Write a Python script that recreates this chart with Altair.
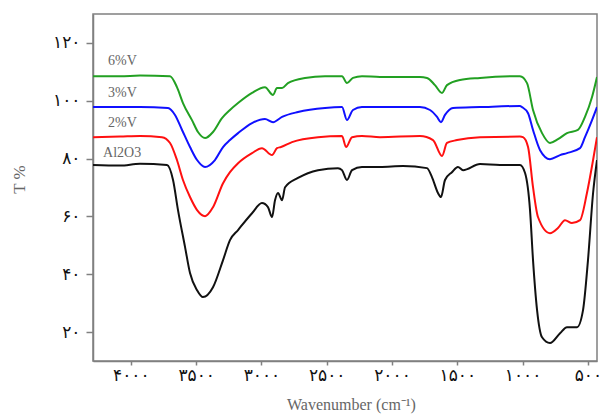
import altair as alt
import pandas as pd

# ---- data (wavenumber cm-1, transmittance %) ----
wn_al2o3 = [4290, 4083, 3930, 3723, 3677, 3639, 3585, 3547, 3493, 3448, 3371, 3294, 3241, 3179,
            3072, 2996, 2950, 2919, 2896, 2873, 2842, 2819, 2720, 2567, 2414, 2383, 2345, 2306,
            2230, 2092, 1916, 1732, 1694, 1648, 1625, 1594, 1541, 1495, 1456, 1326, 1173, 1020,
            981, 943, 920, 889, 851, 790, 713, 660, 583, 537, 499, 460, 430]
t_al2o3 = [77.8, 77.6, 78.2, 77.8, 72.6, 62.2, 49.4, 40.4, 34.5, 32.1, 35.5, 44.9, 51.8, 55.3,
           61.1, 64.6, 63.2, 59.8, 65.6, 68.1, 65.6, 70.1, 73.3, 76.0, 76.7, 76.0, 72.6, 76.0,
           77.1, 77.1, 77.4, 76.7, 73.6, 68.1, 66.7, 72.6, 75.3, 77.1, 76.0, 78.1, 77.8, 77.8,
           75.0, 62.2, 44.9, 27.6, 18.2, 16.2, 19.6, 21.7, 21.7, 27.6, 44.9, 68.1, 79.5]

wn_2v = [4290, 4083, 3930, 3762, 3700, 3647, 3601, 3547, 3493, 3432, 3371, 3294, 3241, 3179,
         3072, 2996, 2919, 2881, 2850, 2766, 2567, 2383, 2352, 2306, 2230, 2092, 1786, 1686,
         1617, 1579, 1502, 1326, 1020, 997, 958, 920, 882, 790, 729, 675, 622, 560, 507, 460, 430]
t_2v = [87.4, 87.6, 87.8, 87.4, 85.4, 79.5, 72.6, 66.7, 62.2, 60.1, 63.2, 71.5, 75.3, 78.4,
        81.9, 83.6, 81.2, 83.6, 84.0, 85.7, 87.4, 87.8, 84.0, 87.4, 87.8, 87.4, 87.8, 86.4,
        80.9, 85.4, 86.4, 87.4, 87.6, 87.4, 84.0, 70.1, 59.8, 54.2, 56.0, 58.7, 57.7, 58.7,
        68.1, 79.5, 87.4]

wn_3v = [4290, 4083, 3930, 3716, 3662, 3608, 3547, 3493, 3432, 3356, 3294, 3241, 3179, 3072,
         2973, 2911, 2842, 2720, 2513, 2383, 2345, 2299, 2230, 1786, 1709, 1655, 1625, 1594,
         1533, 1326, 1020, 1004, 958, 920, 866, 790, 713, 660, 560, 522, 468, 430]
t_3v = [97.8, 97.8, 97.8, 97.5, 95.1, 89.9, 84.0, 79.5, 77.1, 79.5, 84.0, 86.4, 88.8, 92.3,
        93.7, 92.6, 94.4, 96.1, 97.5, 97.8, 93.3, 96.8, 97.8, 97.8, 96.8, 94.4, 92.6, 95.1,
        97.5, 97.8, 98.2, 97.8, 95.7, 89.9, 82.9, 79.8, 81.2, 81.9, 83.6, 87.4, 93.3, 97.8]

wn_6v = [4290, 4083, 3930, 3700, 3647, 3601, 3532, 3486, 3432, 3371, 3302, 3241, 3179, 3072,
         2973, 2911, 2881, 2842, 2797, 2666, 2513, 2383, 2345, 2299, 2230, 2092, 1786, 1732,
         1671, 1617, 1579, 1479, 1326, 1020, 966, 920, 851, 790, 729, 660, 576, 522, 468, 430]
t_6v = [108.5, 108.5, 108.7, 108.5, 104.7, 99.2, 93.3, 89.2, 87.1, 89.2, 94.0, 96.8, 99.2, 102.7,
        104.7, 102.0, 104.4, 104.4, 106.1, 107.9, 108.5, 108.5, 106.1, 107.9, 108.5, 108.2, 108.2,
        107.9, 105.4, 102.7, 105.4, 107.2, 107.9, 108.5, 106.1, 96.8, 88.8, 85.4, 86.7, 88.8,
        89.9, 94.4, 101.3, 108.2]

series_names = ["Al2O3", "2%V", "3%V", "6%V"]
series_colors = ["#111111", "#ff1010", "#1010ff", "#22a022"]

label_texts = ["6%V", "3%V", "2%V", "Al2O3"]
label_wn = [4175, 4175, 4175, 4213]
label_t = [113.7, 102.7, 92.3, 81.9]

x_tick_values = [4000, 3500, 3000, 2500, 2000, 1500, 1000, 500]
x_tick_labels = ["۴۰۰۰", "۳۵۰۰", "۳۰۰۰", "۲۵۰۰", "۲۰۰۰", "۱۵۰۰", "۱۰۰۰", "۵۰۰"]
y_tick_values = [20, 30, 40, 50, 60, 70, 80, 90, 100, 110, 120]
y_label_values = [20, 40, 60, 80, 100, 120]
y_tick_labels = ["۲۰", "۴۰", "۶۰", "۸۰", "۱۰۰", "۱۲۰"]

# ---- build tables ----
rows = []
for name, wns, ts in zip(series_names, [wn_al2o3, wn_2v, wn_3v, wn_6v], [t_al2o3, t_2v, t_3v, t_6v]):
    for w, t in zip(wns, ts):
        rows.append({"series": name, "wn": w, "t": t})
df = pd.DataFrame(rows)
df_lab = pd.DataFrame({"label": label_texts, "wn": label_wn, "t": label_t})


def make_expr(values, labels):
    expr = "''"
    for v, l in reversed(list(zip(values, labels))):
        expr = f"datum.value == {v} ? '{l}' : ({expr})"
    return expr


x_expr = make_expr(x_tick_values, x_tick_labels)
y_expr = make_expr(y_label_values, y_tick_labels)

x_scale = alt.Scale(domain=[430, 4290], reverse=True, nice=False, zero=False)
y_scale = alt.Scale(domain=[10, 130], nice=False, zero=False)

x_axis = alt.Axis(values=x_tick_values, labelExpr=x_expr, title="Wavenumber (cm⁻¹)",
                  grid=False, domainColor="#808080", domainWidth=1.5, tickColor="#808080",
                  tickWidth=1.5, tickSize=4, labelFont="DejaVu Sans", labelFontSize=17,
                  labelColor="#111111", labelPadding=2, labelFlush=False,
                  titleFont="Liberation Serif", titleFontSize=16, titleFontWeight="normal",
                  titleColor="#666666", titleX=258, titleY=43, titleBaseline="middle")
y_axis = alt.Axis(values=y_tick_values, labelExpr=y_expr, title="T %",
                  grid=False, domainColor="#808080", domainWidth=1.5, tickColor="#808080",
                  tickWidth=1.5, tickSize=7, labelFont="DejaVu Sans", labelFontSize=17,
                  labelColor="#111111", labelPadding=6, labelFlush=False,
                  titleFont="Liberation Serif", titleFontSize=17, titleFontWeight="normal",
                  titleColor="#666666", titleX=-74, titleY=165, titleBaseline="middle")

lines = alt.Chart(df).mark_line(strokeWidth=2, interpolate="monotone", clip=True).encode(
    x=alt.X("wn:Q", scale=x_scale, axis=x_axis),
    y=alt.Y("t:Q", scale=y_scale, axis=y_axis),
    color=alt.Color("series:N", scale=alt.Scale(domain=series_names, range=series_colors),
                    legend=None),
)

texts = alt.Chart(df_lab).mark_text(align="left", baseline="middle", font="Liberation Serif",
                                    fontSize=14, color="#666666").encode(
    x=alt.X("wn:Q", scale=x_scale),
    y=alt.Y("t:Q", scale=y_scale),
    text="label:N",
)

chart = alt.layer(lines, texts).properties(
    width=504, height=347,
    autosize=alt.AutoSizeParams(type="none"),
    padding={"left": 85, "top": 6, "right": 4, "bottom": 54},
    background="white",
).configure_view(stroke="#808080", strokeWidth=1.5)

chart.save("out.html", embed_options={"renderer": "svg", "actions": False})
